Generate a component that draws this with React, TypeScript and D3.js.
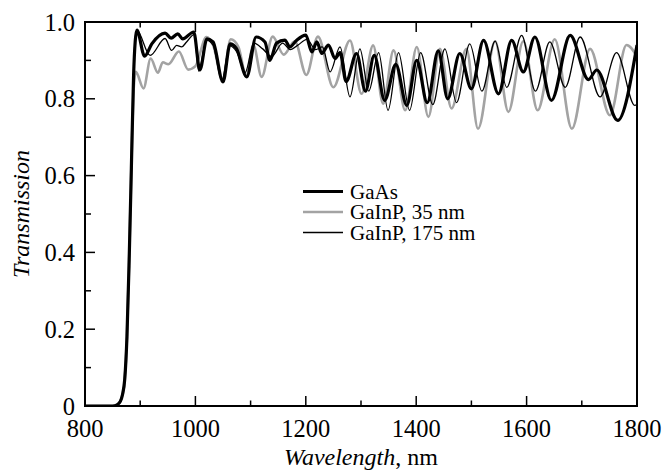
import React from "react";
import * as d3 from "d3";

const edge: [number, number][] = [[800,0],[850,0],[858,0.003],[864,0.012],[868,0.03],[872,0.07],[876,0.18],[880,0.38],[884,0.62]];

const gaas: [number, number][] = edge.concat([[888,0.86],[891,0.95],[894,0.979],[908,0.911],[921,0.943],[945,0.971],[956,0.958],[968,0.969],[977,0.956],[997,0.974],[1008,0.875],[1021,0.956],[1032,0.948],[1050,0.844],[1063,0.943],[1074,0.932],[1093,0.857],[1110,0.961],[1126,0.948],[1135,0.90],[1147,0.945],[1162,0.953],[1171,0.935],[1183,0.952],[1200,0.966],[1211,0.922],[1220,0.948],[1229,0.918],[1241,0.94],[1253,0.905],[1262,0.92],[1273,0.845],[1292,0.918],[1308,0.82],[1324,0.913],[1343,0.796],[1363,0.89],[1383,0.783],[1401,0.90],[1420,0.79],[1440,0.925],[1457,0.80],[1479,0.918],[1500,0.826],[1522,0.952],[1549,0.813],[1573,0.952],[1594,0.87],[1615,0.961],[1645,0.796],[1679,0.965],[1712,0.85],[1727,0.875],[1765,0.744],[1800,0.94]] as [number, number][]);

const gainp175: [number, number][] = edge.concat([[888,0.86],[891,0.95],[894,0.978],[918,0.913],[945,0.957],[957,0.926],[966,0.939],[975,0.935],[984,0.948],[998,0.968],[1006,0.872],[1020,0.953],[1032,0.94],[1048,0.848],[1062,0.938],[1075,0.922],[1090,0.868],[1106,0.945],[1122,0.93],[1138,0.91],[1158,0.945],[1172,0.928],[1186,0.94],[1202,0.955],[1218,0.928],[1230,0.935],[1244,0.87],[1262,0.935],[1280,0.805],[1298,0.93],[1314,0.82],[1332,0.92],[1349,0.77],[1368,0.92],[1388,0.77],[1408,0.92],[1430,0.785],[1452,0.93],[1473,0.79],[1497,0.943],[1519,0.82],[1543,0.95],[1564,0.83],[1591,0.965],[1616,0.82],[1642,0.948],[1670,0.83],[1697,0.961],[1733,0.805],[1763,0.92],[1796,0.783],[1800,0.785]] as [number, number][]);

const gainp35: [number, number][] = edge.concat([[888,0.82],[892,0.87],[906,0.827],[919,0.905],[932,0.868],[941,0.895],[951,0.89],[970,0.923],[987,0.876],[1000,0.885],[1020,0.961],[1032,0.94],[1049,0.85],[1064,0.955],[1078,0.935],[1092,0.86],[1105,0.94],[1120,0.857],[1140,0.962],[1160,0.915],[1180,0.95],[1201,0.862],[1222,0.962],[1250,0.83],[1280,0.952],[1301,0.813],[1322,0.939],[1340,0.787],[1359,0.926],[1380,0.77],[1401,0.935],[1422,0.753],[1443,0.93],[1464,0.775],[1491,0.93],[1512,0.722],[1543,0.95],[1567,0.766],[1594,0.95],[1620,0.77],[1651,0.955],[1682,0.722],[1715,0.93],[1751,0.757],[1781,0.94],[1800,0.91]] as [number, number][]);

const xMajor = [800, 1000, 1200, 1400, 1600, 1800];
const xMinor = [900, 1100, 1300, 1500, 1700];
const yMajor = [0, 0.2, 0.4, 0.6, 0.8, 1.0];
const yMinor = [0.1, 0.3, 0.5, 0.7, 0.9];

const legendItems = [
  { label: "GaAs", color: "#000", width: 3.2 },
  { label: "GaInP, 35 nm", color: "#a3a3a3", width: 2.6 },
  { label: "GaInP, 175 nm", color: "#000", width: 1.3 },
];

export default function App() {
  const L = 85, R = 637, T = 22, B = 406;
  const x = d3.scaleLinear().domain([800, 1800]).range([L, R]);
  const y = d3.scaleLinear().domain([0, 1]).range([B, T]);
  const line = d3.line<[number, number]>().x(d => x(d[0])).y(d => y(d[1])).curve(d3.curveMonotoneX);
  const font = "'Liberation Serif', 'Times New Roman', serif";
  const series = [
    { data: gainp35, color: "#a3a3a3", width: 2.6 },
    { data: gainp175, color: "#000", width: 1.3 },
    { data: gaas, color: "#000", width: 3.2 },
  ];
  return (
    <svg width={664} height={472} style={{ position: "fixed", left: 0, top: 0, background: "#fff" }} fontFamily={font}>
      <defs>
        <clipPath id="plot"><rect x={L} y={T - 2} width={R - L} height={B - T + 2} /></clipPath>
      </defs>
      <g clipPath="url(#plot)">
        {series.map((s, i) => (
          <path key={i} d={line(s.data) || ""} fill="none" stroke={s.color} strokeWidth={s.width} strokeLinejoin="round" />
        ))}
      </g>
      <rect x={L} y={T} width={R - L} height={B - T} fill="none" stroke="#000" strokeWidth={2} />
      {xMajor.map(v => (
        <g key={"xM" + v}>
          <line x1={x(v)} x2={x(v)} y1={B} y2={B - 10} stroke="#000" strokeWidth={1.5} />
          <line x1={x(v)} x2={x(v)} y1={T} y2={T + 10} stroke="#000" strokeWidth={1.5} />
          <text x={x(v)} y={437} textAnchor="middle" fontSize={24.5}>{v}</text>
        </g>
      ))}
      {xMinor.map(v => (
        <g key={"xm" + v}>
          <line x1={x(v)} x2={x(v)} y1={B} y2={B - 5.5} stroke="#000" strokeWidth={1.5} />
          <line x1={x(v)} x2={x(v)} y1={T} y2={T + 5.5} stroke="#000" strokeWidth={1.5} />
        </g>
      ))}
      {yMajor.map(v => (
        <g key={"yM" + v}>
          <line x1={L} x2={L + 10} y1={y(v)} y2={y(v)} stroke="#000" strokeWidth={1.5} />
          <text x={75} y={y(v) + 8.5} textAnchor="end" fontSize={24.5}>{v === 0 ? "0" : v.toFixed(1)}</text>
        </g>
      ))}
      {yMinor.map(v => (
        <line key={"ym" + v} x1={L} x2={L + 6} y1={y(v)} y2={y(v)} stroke="#000" strokeWidth={1.5} />
      ))}
      {legendItems.map((it, i) => (
        <g key={it.label}>
          <line x1={303} x2={343} y1={191.5 + i * 20.5} y2={191.5 + i * 20.5} stroke={it.color} strokeWidth={it.width} />
          <text x={350} y={198.5 + i * 20.5} fontSize={21}>{it.label}</text>
        </g>
      ))}
      <text transform={`translate(29, ${(T + B) / 2}) rotate(-90)`} textAnchor="middle" fontSize={24} fontStyle="italic">Transmission</text>
      <text x={(L + R) / 2} y={465} textAnchor="middle" fontSize={24}>
        <tspan fontStyle="italic">Wavelength</tspan>, nm
      </text>
    </svg>
  );
}
